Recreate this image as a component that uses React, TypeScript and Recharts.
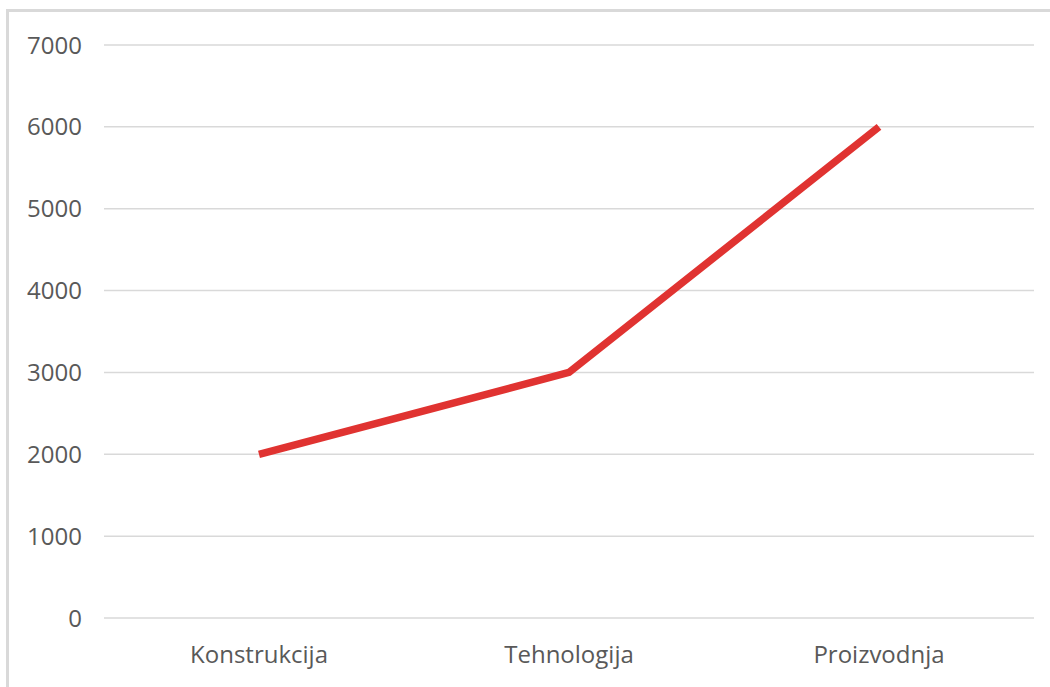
import { LineChart, Line, XAxis, YAxis, CartesianGrid } from 'recharts'

const categories = ['Konstrukcija', 'Tehnologija', 'Proizvodnja']
const values = [2000, 3000, 6000]
const yTicks = [0, 1000, 2000, 3000, 4000, 5000, 6000, 7000]

const data = categories.map((name, i) => ({ name, value: values[i] }))

const FONT = '"Open Sans", sans-serif'

export default function App() {
  return (
    <div style={{ position: 'fixed', left: 0, top: 0, width: 1050, height: 687, overflow: 'hidden', background: '#fff' }}>
      {/* frame, only top and left edges show */}
      <div style={{ position: 'absolute', left: 6, top: 9, width: 1200, height: 800, border: '3px solid #d9d9d9' }} />
      <div style={{ position: 'absolute', left: 0, top: 0 }}>
        <LineChart width={1050} height={687} data={data} margin={{ top: 45, right: 16, left: 0, bottom: 0 }}>
          <CartesianGrid vertical={false} stroke="#d9d9d9" strokeWidth={1.5} />
          <XAxis
            dataKey="name"
            height={69}
            padding={{ left: 155, right: 155 }}
            axisLine={false}
            tickLine={false}
            tickSize={0}
            tickMargin={28}
            tick={{ fill: '#595959', fontSize: 24, fontFamily: FONT }}
          />
          <YAxis
            width={104}
            domain={[0, 7000]}
            ticks={yTicks}
            axisLine={false}
            tickLine={false}
            tickSize={0}
            tickMargin={22}
            tick={{ fill: '#595959', fontSize: 24, fontFamily: FONT }}
          />
          <Line
            type="linear"
            dataKey="value"
            stroke="#e03331"
            strokeWidth={7.5}
            dot={false}
            isAnimationActive={false}
          />
        </LineChart>
      </div>
    </div>
  )
}
